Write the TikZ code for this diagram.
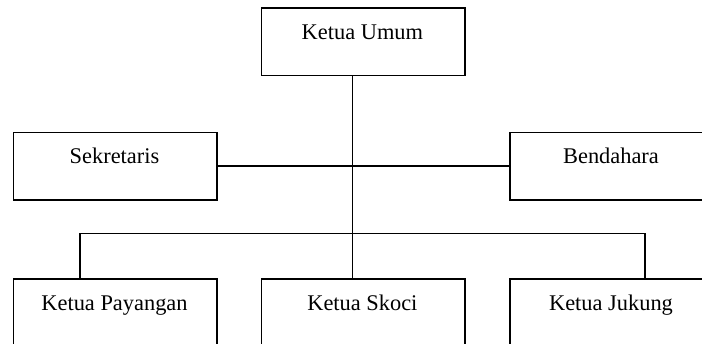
\documentclass[tikz,border=0pt]{standalone}
\usepackage{fontspec}
\setmainfont{Liberation Serif}
\begin{document}
\begin{tikzpicture}[x=1pt,y=-1pt,
  box/.style={draw=black, line width=1.4pt, fill=white, minimum width=203.5pt, minimum height=67.6pt, anchor=north west, inner sep=0pt},
  lbl/.style={font=\fontsize{22.4}{26}\selectfont, anchor=base, inner sep=0pt},
  link/.style={draw=black, line width=1.4pt}]
\useasboundingbox (0,0) rectangle (702,344);
\clip (0,0) rectangle (702,344);
\fill[white] (0,0) rectangle (702,344);
% boxes
\node[box] (ku)  at (260.7,7.3) {};
\node[box] (sek) at (12.7,131.7) {};
\node[box] (ben) at (509.3,131.7) {};
\node[box] (pay) at (12.7,278.3) {};
\node[box] (sko) at (260.7,278.3) {};
\node[box] (juk) at (509.3,278.3) {};
% labels
\node[lbl] (kut)   at (362.4,39.3) {Ketua Umum};
\node[lbl] (sekt)  at (114.5,163.3) {Sekretaris};
\node[lbl] (bent)  at (611,163.3) {Bendahara};
\node[lbl] (payt)  at (114.5,311) {Ketua Payangan};
\node[lbl] (skot)  at (362.4,311) {Ketua Skoci};
\node[lbl] (jukt)  at (611,311) {Ketua Jukung};
% bus coordinates
\coordinate (busL) at (80,233.3);
\coordinate (busR) at (644.8,233.3);
% connectors
\draw[link] ([xshift=-10.7pt]ku.south) -- ([xshift=-10.7pt]sko.north);
\draw[link] (sek.east) -- (ben.west);
\draw[link] (pay.north -| busL) -- (busL) -- (busR) -- (juk.north -| busR);
\end{tikzpicture}
\end{document}
